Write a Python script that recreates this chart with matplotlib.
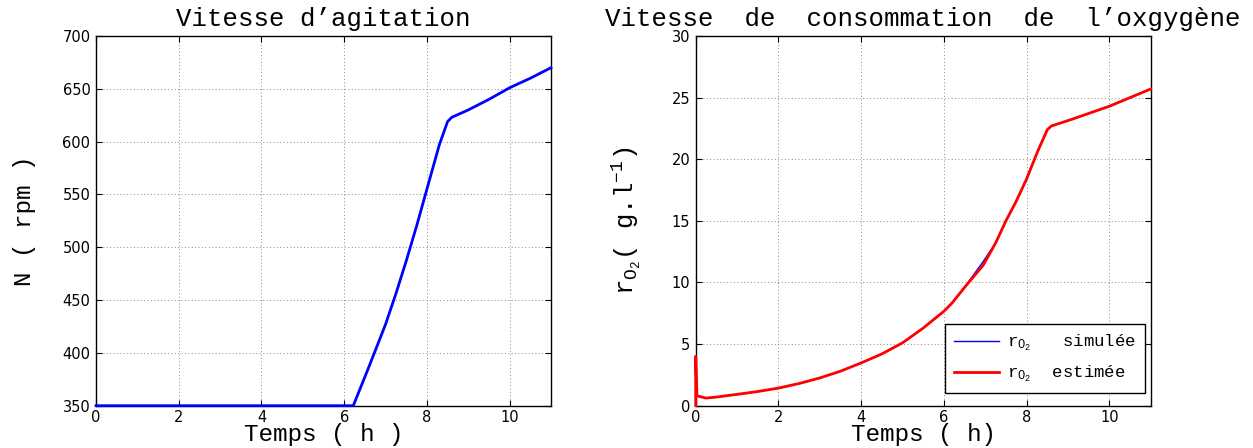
import matplotlib
matplotlib.use("Agg")
import matplotlib.pyplot as plt
import numpy as np

plt.rcParams['mathtext.fontset'] = 'custom'
plt.rcParams['mathtext.rm'] = 'Liberation Mono'
plt.rcParams['mathtext.it'] = 'Liberation Mono'

# ---- data: agitation speed ----
t_N = [0.0, 6.22, 6.6, 7.0, 7.25, 7.5, 7.75, 8.0, 8.3, 8.5, 8.6, 9.0, 9.5,
       10.0, 10.5, 11.0]
N_rpm = [350, 350, 387, 427, 456, 487, 520, 555, 597, 619, 623, 630, 640,
         651, 660, 670]

# ---- data: oxygen consumption rate ----
t_r = [0.0, 0.0, 0.03, 0.25, 0.5, 1.0, 1.5, 2.0, 2.5, 3.0, 3.5, 4.0, 4.5, 5.0,
       5.5, 6.0, 6.2, 6.5, 6.95, 7.25, 7.5, 7.75, 8.0, 8.25, 8.5, 8.6, 9.06,
       10.0, 11.0]
r_sim = [0.0, 4.0, 0.8, 0.62, 0.7, 0.92, 1.15, 1.43, 1.8, 2.25, 2.8, 3.47, 4.2,
         5.1, 6.3, 7.66, 8.34, 9.6, 11.7, 13.2, 15.0, 16.6, 18.4, 20.5, 22.4,
         22.7, 23.2, 24.3, 25.7]
r_est = [0.0, 4.0, 0.8, 0.62, 0.7, 0.92, 1.15, 1.43, 1.8, 2.25, 2.8, 3.47, 4.2,
         5.1, 6.3, 7.66, 8.34, 9.6, 11.4, 13.2, 15.0, 16.6, 18.4, 20.5, 22.4,
         22.7, 23.2, 24.3, 25.7]

xticks = [0, 2, 4, 6, 8, 10]
N_ticks = [350, 400, 450, 500, 550, 600, 650, 700]
r_ticks = [0, 5, 10, 15, 20, 25, 30]

W, H = 1253, 448
fig = plt.figure(figsize=(W / 100, H / 100), dpi=100)

mono = 'Liberation Mono'
tfs = 18.5
lfs = 17.5
tick_fs = 10.5


def style(ax):
    ax.tick_params(direction='in', top=True, right=True, length=4, width=0.8,
                   labelsize=tick_fs, colors='black')
    ax.tick_params(axis='x', pad=3)
    ax.tick_params(axis='y', pad=4)
    for s in ax.spines.values():
        s.set_linewidth(1.0)
        s.set_color('black')
        s.set_zorder(1)
    ax.grid(True, linestyle=(0, (1, 2.5)), color='#888888', linewidth=0.7)
    ax.set_axisbelow(True)


ax1 = fig.add_axes([96 / W, (H - 405.7) / H, 455 / W, 369.7 / H])
ax1.plot(t_N, N_rpm, color='#0000ff', linewidth=2.0, clip_on=False, zorder=3)
ax1.set_xlim(0, 11)
ax1.set_ylim(350, 700)
ax1.set_xticks(xticks)
ax1.set_yticks(N_ticks)
style(ax1)
ax1.set_title('Vitesse d\u2019agitation', family=mono, fontsize=tfs, pad=7)
ax1.set_xlabel('Temps ( h )', family=mono, fontsize=lfs, labelpad=-1)
ax1.set_ylabel('N ( rpm )', family=mono, fontsize=lfs, labelpad=19)

ax2 = fig.add_axes([695.7 / W, (H - 405.7) / H, 455 / W, 369.7 / H])
ax2.plot(t_r, r_sim, color='#0000ff', linewidth=1.0, clip_on=False, zorder=3,
         label=r'r$_{\mathregular{O_2}}$   simulée')
ax2.plot(t_r, r_est, color='#ff0000', linewidth=2.0, clip_on=False, zorder=4,
         label=r'r$_{\mathregular{O_2}}$  estimée')
ax2.set_xlim(0, 11)
ax2.set_ylim(0, 30)
ax2.set_xticks(xticks)
ax2.set_yticks(r_ticks)
style(ax2)
ax2.set_title('Vitesse  de  consommation  de  l\u2019oxgygène', family=mono,
              fontsize=tfs, pad=7)
ax2.set_xlabel('Temps ( h)', family=mono, fontsize=lfs, labelpad=-1)
ax2.set_ylabel(r'r$_{\mathregular{O_2}}$( g.l$^{\mathregular{-1}}$)', family=mono,
               fontsize=lfs + 1, labelpad=20)
leg = ax2.legend(loc='lower right', bbox_to_anchor=(0.9875, 0.034),
                 borderaxespad=0, prop={'family': mono, 'size': 12.5},
                 fancybox=False, framealpha=1, edgecolor='black',
                 handlelength=2.6, labelspacing=0.6, borderpad=0.5,
                 handletextpad=0.5)
leg.get_frame().set_linewidth(1.0)
leg.set_zorder(5)

fig.savefig('out.png', dpi=100)
